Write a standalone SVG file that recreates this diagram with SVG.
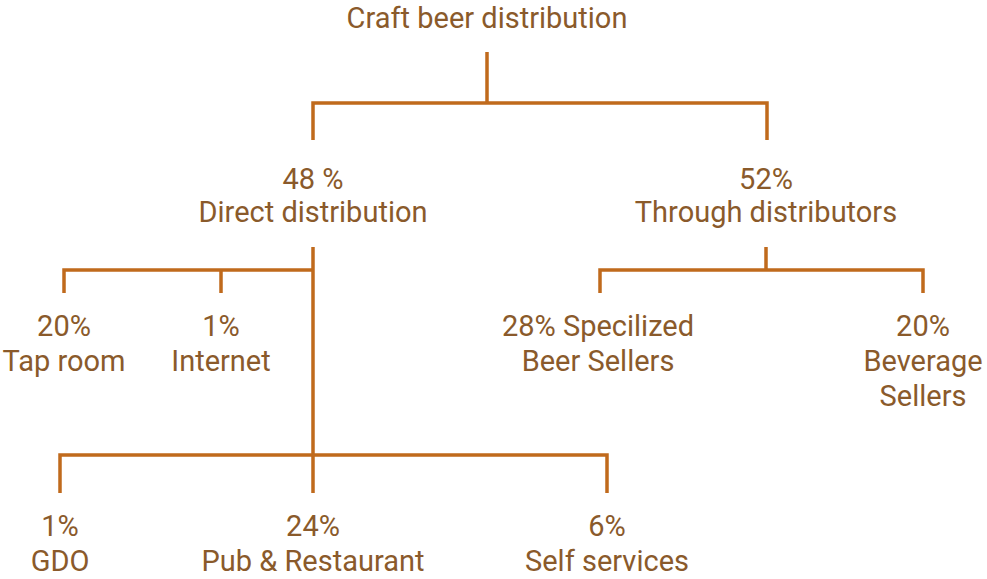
<svg xmlns="http://www.w3.org/2000/svg" width="987" height="579" viewBox="0 0 987 579">
<style>
.t{font-family:Roboto,"Liberation Sans",sans-serif;font-size:29px;fill:#8a5a2b;text-anchor:middle}
.c{stroke:#c06a1c;stroke-width:3.5;fill:none;stroke-linecap:butt}
</style>
<rect width="987" height="579" fill="#ffffff"/>
<g id="connectors">
<path class="c" d="M487 52V103M313 140V103H767V140"/>
<path class="c" d="M313 247V493M64 293V270H313M221 270V293"/>
<path class="c" d="M766 247V270M600 293V270H923V293"/>
<path class="c" d="M60 493V455H607V493"/>
</g>
<g id="root"><text class="t" x="487" y="28">Craft beer distribution</text></g>
<g id="direct"><text class="t" x="313" y="189">48 %</text><text class="t" x="313" y="222">Direct distribution</text></g>
<g id="through"><text class="t" x="766" y="189">52%</text><text class="t" x="766" y="222">Through distributors</text></g>
<g id="taproom"><text class="t" x="64" y="336">20%</text><text class="t" x="64" y="371">Tap room</text></g>
<g id="internet"><text class="t" x="221" y="336">1%</text><text class="t" x="221" y="371">Internet</text></g>
<g id="beer"><text class="t" x="598" y="336">28% Specilized</text><text class="t" x="598" y="371">Beer Sellers</text></g>
<g id="beverage"><text class="t" x="923" y="336">20%</text><text class="t" x="923" y="371">Beverage</text><text class="t" x="923" y="406">Sellers</text></g>
<g id="gdo"><text class="t" x="60" y="536">1%</text><text class="t" x="60" y="571">GDO</text></g>
<g id="pub"><text class="t" x="313" y="536">24%</text><text class="t" x="313" y="571">Pub &amp; Restaurant</text></g>
<g id="self"><text class="t" x="607" y="536">6%</text><text class="t" x="607" y="571">Self services</text></g>
</svg>
